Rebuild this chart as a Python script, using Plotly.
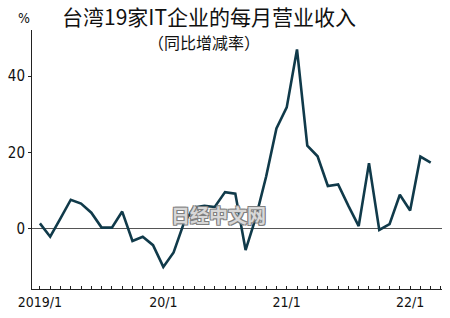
import plotly.graph_objects as go

months = ["2019/1","2019/2","2019/3","2019/4","2019/5","2019/6","2019/7","2019/8","2019/9","2019/10","2019/11","2019/12",
          "2020/1","2020/2","2020/3","2020/4","2020/5","2020/6","2020/7","2020/8","2020/9","2020/10","2020/11","2020/12",
          "2021/1","2021/2","2021/3","2021/4","2021/5","2021/6","2021/7","2021/8","2021/9","2021/10","2021/11","2021/12",
          "2022/1","2022/2","2022/3"]
values = [1.4, -2.1, 2.7, 7.6, 6.6, 4.2, 0.3, 0.3, 4.5, -3.2, -2.1, -4.3,
          -10.0, -6.2, 1.5, 5.6, 6.0, 5.7, 9.6, 9.2, -5.6, 3.0, 13.7, 26.3,
          31.8, 47.0, 21.8, 19.0, 11.2, 11.6, 6.0, 0.7, 17.2, -0.3, 1.2, 8.9,
          4.8, 18.9, 17.3]
tick_labels = ["2019/1", "20/1", "21/1", "22/1"]
tick_months = ["2019/1", "2020/1", "2021/1", "2022/1"]
y_ticks = [0, 20, 40]

W, H = 450, 318
L, R, T, B = 27, 8, 30, 28

def px(x):
    return (x - L) / (W - L - R)

def py(y):
    return 1 - (y - T) / (H - T - B)

idx = list(range(len(months)))
tickvals = [months.index(m) for m in tick_months]

narrow = "Liberation Sans Narrow, DejaVu Sans Condensed, Arial Narrow, sans-serif"
cjk = "Noto Sans CJK SC, sans-serif"

fig = go.Figure()
fig.add_trace(go.Scatter(x=idx, y=values, mode="lines",
                         line=dict(color="#103a4a", width=2.6), hoverinfo="skip"))

fig.update_layout(
    width=W, height=H,
    margin=dict(l=L, r=R, t=T, b=B),
    paper_bgcolor="white", plot_bgcolor="white",
    showlegend=False,
    xaxis=dict(range=[-0.77, 39.1], tickvals=tickvals, ticktext=tick_labels,
               ticks="inside", ticklen=3, tickcolor="#222", showgrid=False,
               showline=True, linecolor="#222", linewidth=1, zeroline=False,
               minor=dict(dtick=1, tick0=0, ticks="inside", ticklen=3, tickcolor="#222", showgrid=False),
               tickfont=dict(family=narrow, size=14, color="#111")),
    yaxis=dict(range=[-15.8, 52.1], tickvals=y_ticks, ticks="outside", ticklen=3,
               tickcolor="#222", showgrid=False, showline=True, linecolor="#222", linewidth=1,
               zeroline=True, zerolinecolor="#555", zerolinewidth=1,
               tickfont=dict(family=narrow, size=15, color="#111")),
)

fig.add_annotation(text="台湾19家IT企业的每月营业收入", xref="paper", yref="paper",
                   x=px(206.5), y=py(16), xanchor="center", yanchor="middle", showarrow=False,
                   borderpad=0, font=dict(family=cjk, size=21, color="#111"))
fig.add_annotation(text="（同比增减率）", xref="paper", yref="paper",
                   x=px(201), y=py(42.5), xanchor="center", yanchor="middle", showarrow=False,
                   borderpad=0, font=dict(family=cjk, size=16, color="#111"))
fig.add_annotation(text="%", xref="paper", yref="paper",
                   x=px(19), y=py(18), xanchor="center", yanchor="middle", showarrow=False,
                   font=dict(family=narrow, size=14, color="#111"))
fig.add_annotation(text="日经中文网", xref="paper", yref="paper",
                   x=px(216), y=py(215), xanchor="center", yanchor="middle", showarrow=False,
                   font=dict(family=cjk, size=19, color="#d8d8d8", weight="bold",
                             shadow="-1px -1px 0 #808080, 1px -1px 0 #808080, -1px 1px 0 #808080, 1px 1px 0 #808080"))

fig.write_html("out.html")
